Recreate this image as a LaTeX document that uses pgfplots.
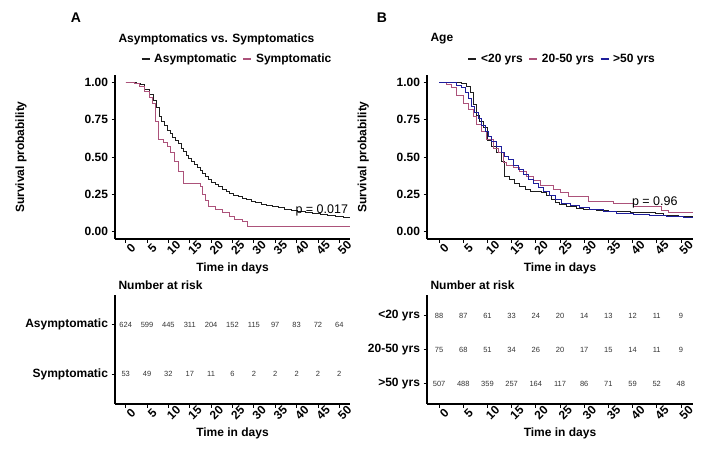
\documentclass[border=0pt]{standalone}
\usepackage{fontspec}
\setmainfont{Liberation Sans}
\usepackage{pgfplots}
\pgfplotsset{compat=1.18}
\definecolor{kmblack}{RGB}{30,30,30}
\definecolor{kmred}{RGB}{172,82,122}
\definecolor{kmblue}{RGB}{30,30,155}
\newcommand{\lab}{\bfseries\fontsize{12}{14}\selectfont}

\pgfplotsset{
  kmbase/.style={
    scale only axis, axis lines=left, axis line style={-, line width=1.3pt, black},
    tick align=outside, major tick length=3.5pt, tick style={black, line width=0.8pt},
    xmin=-2.5, xmax=52.5,
    xtick={0,5,...,50}, xticklabels={0,5,10,15,20,25,30,35,40,45,50},
    xticklabel style={rotate=45, anchor=center, yshift=-7.5pt, font=\lab},
    yticklabel style={font=\lab},
    xlabel={Time in days}, xlabel style={font=\lab, yshift=1pt},
    ylabel style={font=\lab},
    clip=false,
  },
  surv/.style={kmbase, height=164pt, ymin=-0.05, ymax=1.05,
    ytick={0,0.25,0.5,0.75,1}, yticklabels={0.00,0.25,0.50,0.75,1.00},
    ylabel={Survival probability},
    legend style={draw=none, fill=none, legend columns=-1, font=\lab,
      /tikz/every odd column/.append style={column sep=2pt},
      /tikz/every even column/.append style={column sep=4pt}},
    legend image code/.code={\draw[#1, line width=1.2pt] (0pt,0pt) -- (8pt,0pt);},
  },
  risk/.style={kmbase, height=109pt},
  riskno/.style={only marks, mark=none, nodes near coords, point meta=explicit symbolic,
    nodes near coords style={anchor=center, font=\fontsize{7.5}{9}\selectfont, text=black!80}},
}

\begin{document}
\begin{tikzpicture}
\path[use as bounding box] (0,0) rectangle (708pt,-453pt);
\node[font=\bfseries\fontsize{14}{16}\selectfont] at (76pt,-18pt) {A};
\node[font=\bfseries\fontsize{14}{16}\selectfont] at (382pt,-18pt) {B};

% ---- A: survival
\begin{axis}[surv, width=235pt, at={(115pt,-75pt)}, anchor=north west,
  ylabel style={at={(axis description cs:-0.4,0.5)}, anchor=center},
  legend style={at={(0.52,1.098)}, anchor=center}]
\addplot[const plot, kmblack, line width=1pt] coordinates {
(0,1.0)(2.5,0.995)(3.5,0.985)(4.5,0.955)(5.5,0.92)(6.5,0.88)(7.2,0.83)(7.8,0.77)
(8.4,0.74)(9,0.71)(9.7,0.68)(10.4,0.66)(11,0.63)(11.7,0.61)(12.4,0.59)(13,0.56)
(13.6,0.54)(14.2,0.51)(14.8,0.49)(15.5,0.47)(16.1,0.45)(16.8,0.43)(17.4,0.41)
(18,0.39)(18.7,0.37)(19.4,0.35)(20.2,0.33)(21,0.315)(21.8,0.30)(22.6,0.285)
(23.5,0.27)(24.4,0.255)(25.3,0.243)(26.3,0.232)(27.3,0.222)(28.3,0.212)
(29.4,0.202)(30.5,0.193)(31.7,0.184)(33,0.175)(34.3,0.166)(35.7,0.158)
(37.2,0.15)(38.7,0.143)(40.3,0.136)(42,0.13)(43.7,0.123)(45.5,0.116)
(47.3,0.108)(49.2,0.101)(51,0.095)(52.5,0.092)};
\addlegendentry{Asymptomatic}
\addplot[const plot, kmred, line width=1pt] coordinates {
(0,1)(2,0.99)(3.3,0.97)(4.5,0.94)(5.5,0.90)(6.3,0.86)(7,0.74)(7.6,0.62)(8.8,0.60)
(9.8,0.57)(10.6,0.53)(11.5,0.47)(12.4,0.40)(13.5,0.32)(17.6,0.30)(18,0.25)
(18.6,0.21)(19.4,0.17)(21,0.15)(22.6,0.13)(24.3,0.10)(25.5,0.08)(27.3,0.065)
(28.6,0.037)(52.5,0.037)};
\addlegendentry{Symptomatic}
\node[font=\fontsize{12.5}{14}\selectfont] at (axis cs:45.9,0.14) {p = 0.017};
\node[font=\lab, anchor=west] at (axis description cs:0,1.22) {Asymptomatics vs. Symptomatics};
\end{axis}

% ---- B: survival
\begin{axis}[surv, width=266pt, at={(427pt,-75pt)}, anchor=north west,
  ylabel style={at={(axis description cs:-0.24,0.5)}, anchor=center},
  legend style={at={(0.509,1.098)}, anchor=center}]
\addplot[const plot, kmblack, line width=1pt] coordinates {
(0,1)(4.7,0.99)(5.7,0.97)(6.4,0.93)(7.1,0.85)(7.8,0.78)(8.4,0.74)(9.2,0.70)
(10,0.61)(10.9,0.57)(11.9,0.53)(12.9,0.47)(13.6,0.37)(14.5,0.35)(15.6,0.32)
(16.7,0.30)(17.8,0.285)(18.9,0.27)(21.2,0.26)(22.2,0.24)(23.2,0.215)(24,0.195)
(24.9,0.18)(26.4,0.165)(28.4,0.155)(29.8,0.15)(32.6,0.142)(35,0.136)(39.5,0.13)
(44.8,0.12)(46.5,0.11)(49.6,0.10)(52.5,0.10)};
\addlegendentry{<20 yrs}
\addplot[const plot, kmred, line width=1pt] coordinates {
(0,1)(1.6,0.987)(2.6,0.964)(3.7,0.91)(5,0.86)(6.1,0.82)(7.1,0.77)(7.8,0.72)
(8.8,0.67)(9.8,0.62)(11.2,0.56)(12.3,0.53)(13.3,0.46)(14,0.44)(15.4,0.43)
(16.7,0.405)(18.1,0.37)(19.5,0.34)(20.9,0.31)(23.6,0.282)(25,0.26)(26.7,0.237)
(30.8,0.204)(36,0.188)(40.1,0.17)(46,0.143)(47.4,0.125)(52.5,0.125)};
\addlegendentry{20-50 yrs}
\addplot[const plot, kmblue, line width=1pt] coordinates {
(0,1)(3.7,0.98)(4.7,0.965)(5.4,0.93)(6.1,0.89)(6.7,0.84)(7.4,0.80)(8.1,0.756)
(8.8,0.71)(9.5,0.67)(10.2,0.64)(10.9,0.606)(11.9,0.57)(12.9,0.53)(13.6,0.506)
(14.3,0.48)(15.4,0.445)(16.4,0.416)(17.4,0.38)(18.5,0.35)(19.5,0.32)(20.5,0.293)
(21.6,0.27)(22.9,0.24)(24,0.215)(25.3,0.19)(27.1,0.175)(29.1,0.16)(31.2,0.145)
(34,0.133)(36.7,0.124)(40.2,0.115)(43.6,0.107)(47,0.099)(50.5,0.092)(52.5,0.092)};
\addlegendentry{>50 yrs}
\node[font=\fontsize{12.5}{14}\selectfont] at (axis cs:44.6,0.195) {p = 0.96};
\node[font=\lab, anchor=west] at (axis description cs:0,1.22) {Age};
\end{axis}

% ---- A: number at risk
\begin{axis}[risk, width=235pt, at={(115pt,-295pt)}, anchor=north west,
  ymin=0.4, ymax=2.6, ytick={1,2}, yticklabels={Symptomatic,Asymptomatic}]
\addplot[riskno] coordinates {
(0,2)[624](5,2)[599](10,2)[445](15,2)[311](20,2)[204](25,2)[152]
(30,2)[115](35,2)[97](40,2)[83](45,2)[72](50,2)[64]};
\addplot[riskno] coordinates {
(0,1)[53](5,1)[49](10,1)[32](15,1)[17](20,1)[11](25,1)[6]
(30,1)[2](35,1)[2](40,1)[2](45,1)[2](50,1)[2]};
\node[font=\lab, anchor=west] at (axis description cs:0,1.092) {Number at risk};
\end{axis}

% ---- B: number at risk
\begin{axis}[risk, width=266pt, at={(427pt,-295pt)}, anchor=north west,
  ymin=0.4, ymax=3.6, ytick={1,2,3}, yticklabels={{>50 yrs},{20-50 yrs},{<20 yrs}}]
\addplot[riskno] coordinates {
(0,3)[88](5,3)[87](10,3)[61](15,3)[33](20,3)[24](25,3)[20]
(30,3)[14](35,3)[13](40,3)[12](45,3)[11](50,3)[9]};
\addplot[riskno] coordinates {
(0,2)[75](5,2)[68](10,2)[51](15,2)[34](20,2)[26](25,2)[20]
(30,2)[17](35,2)[15](40,2)[14](45,2)[11](50,2)[9]};
\addplot[riskno] coordinates {
(0,1)[507](5,1)[488](10,1)[359](15,1)[257](20,1)[164](25,1)[117]
(30,1)[86](35,1)[71](40,1)[59](45,1)[52](50,1)[48]};
\node[font=\lab, anchor=west] at (axis description cs:0,1.092) {Number at risk};
\end{axis}
\end{tikzpicture}
\end{document}
